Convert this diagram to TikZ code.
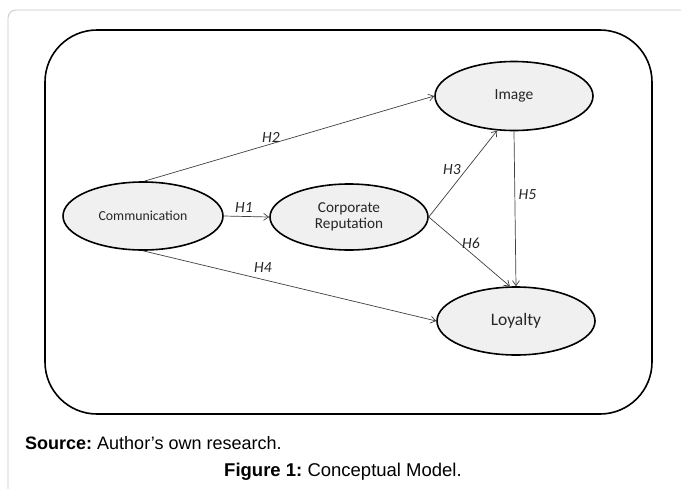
\documentclass[tikz,border=0pt]{standalone}
\usepackage{fontspec}
\setmainfont{Carlito}
\newfontfamily\capfont{Liberation Sans}
\usetikzlibrary{arrows.meta,shapes.geometric}
\definecolor{ellfill}{HTML}{F0F0F0}
\definecolor{framegray}{HTML}{C8C8C8}
\definecolor{arrowgray}{HTML}{404040}
\frenchspacing
\begin{document}
\begin{tikzpicture}[x=1pt,y=-1pt,
  construct/.style={ellipse,draw=black,line width=1.6pt,fill=ellfill,inner sep=0pt,text=black!85},
  link/.style={draw=arrowgray,line width=0.7pt,-{Straight Barb[length=5pt,width=7pt]}},
  hyp/.style={font=\itshape\fontsize{15.5}{18}\selectfont,text=black!85,inner sep=0pt}]
\useasboundingbox (0,0) rectangle (681,488);
\fill[white] (0,0) rectangle (681,488);
% outer page frame
\draw[framegray,line width=0.8pt,rounded corners=8pt] (8,495) -- (8,10) -- (695,10);
% inner rounded box
\draw[black,line width=1.6pt,rounded corners=52pt] (45,30) rectangle (652,414);
% nodes
\node[construct,minimum width=160pt,minimum height=68pt,font=\fontsize{13.8}{16}\selectfont] (comm) at (143,216) {Communication};
\node[construct,minimum width=158pt,minimum height=66pt,font=\fontsize{15.2}{16.5}\selectfont,align=center] (corp) at (349,217) {Corporate\\Reputation};
\node[construct,minimum width=158pt,minimum height=69pt,font=\fontsize{15.5}{18}\selectfont] (img) at (514,96) {Image};
\node[construct,minimum width=158pt,minimum height=68pt,font=\fontsize{17.5}{20}\selectfont] (loy) at (516,321) {Loyalty};
% connectors
\draw[link] (comm.88) -- (img.west);
\draw[link] (comm.east) -- (corp.west);
\draw[link] (comm.south) -- (loy.west);
\draw[link] (corp.east) -- (img.244);
\draw[link] (corp.east) -- (loy.100);
\draw[link] (img.south) -- (loy.north);
% labels
\node[hyp] (h2) at (271,137) {H2};
\node[hyp] (h1) at (244,208) {H1};
\node[hyp] (h4) at (263,268) {H4};
\node[hyp] (h3) at (452,170) {H3};
\node[hyp] (h6) at (471,243.5) {H6};
\node[hyp] (h5) at (527.5,195) {H5};
% caption
\node[anchor=west,inner sep=0pt,font=\capfont\fontsize{18}{21}\selectfont] (src) at (25,443) {\textbf{Source:} Author’s own research.};
\node[inner sep=0pt,font=\capfont\fontsize{18.5}{21}\selectfont] (fig) at (343,472) {\textbf{Figure 1:} Conceptual Model.};
\end{tikzpicture}
\end{document}
